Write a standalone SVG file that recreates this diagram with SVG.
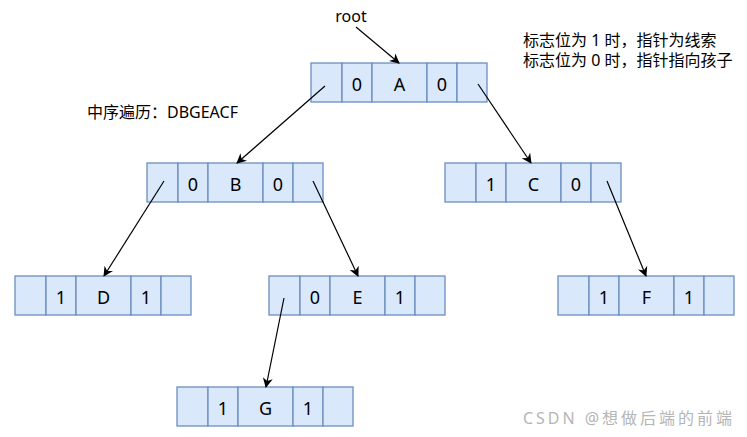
<svg xmlns="http://www.w3.org/2000/svg" width="747" height="437" viewBox="0 0 747 437">
<defs>
<style>
.c{fill:#dae8fc;stroke:#6c8ebf;stroke-width:1.3}
.t{font-family:"Noto Sans","Noto Sans CJK SC",sans-serif;font-size:18px;fill:#000;text-anchor:middle;dominant-baseline:central}
.l{font-family:"Noto Sans","Noto Sans CJK SC",sans-serif;font-size:16px;fill:#000}
.e{stroke:#000;stroke-width:1.2;fill:none;marker-end:url(#ah)}
</style>
<marker id="ah" viewBox="0 0 10 10" refX="9" refY="5" markerWidth="10" markerHeight="10" markerUnits="userSpaceOnUse" orient="auto">
<path d="M0,0 L10,5 L0,10 L3,5 Z" fill="#000"/>
</marker>
<g id="cells">
<rect class="c" x="0" y="0" width="31" height="39"/>
<rect class="c" x="31" y="0" width="30" height="39"/>
<rect class="c" x="61" y="0" width="55" height="39"/>
<rect class="c" x="116" y="0" width="30" height="39"/>
<rect class="c" x="146" y="0" width="30" height="39"/>
</g>
</defs>
<rect width="747" height="437" fill="#fff"/>
<g id="nodeA" transform="translate(311,63)"><use href="#cells"/><text class="t" x="46" y="21">0</text><text class="t" x="88.5" y="21">A</text><text class="t" x="131" y="21">0</text></g>
<g id="nodeB" transform="translate(147,163)"><use href="#cells"/><text class="t" x="46" y="21">0</text><text class="t" x="88.5" y="21">B</text><text class="t" x="131" y="21">0</text></g>
<g id="nodeC" transform="translate(445,163)"><use href="#cells"/><text class="t" x="46" y="21">1</text><text class="t" x="88.5" y="21">C</text><text class="t" x="131" y="21">0</text></g>
<g id="nodeD" transform="translate(15,276)"><use href="#cells"/><text class="t" x="46" y="21">1</text><text class="t" x="88.5" y="21">D</text><text class="t" x="131" y="21">1</text></g>
<g id="nodeE" transform="translate(269,276)"><use href="#cells"/><text class="t" x="46" y="21">0</text><text class="t" x="88.5" y="21">E</text><text class="t" x="131" y="21">1</text></g>
<g id="nodeF" transform="translate(558,276)"><use href="#cells"/><text class="t" x="46" y="21">1</text><text class="t" x="88.5" y="21">F</text><text class="t" x="131" y="21">1</text></g>
<g id="nodeG" transform="translate(177,387)"><use href="#cells"/><text class="t" x="46" y="21">1</text><text class="t" x="88.5" y="21">G</text><text class="t" x="131" y="21">1</text></g>
<g id="labels">
<text class="l" x="351" y="22" text-anchor="middle" font-size="17">root</text>
<text class="l" x="523" y="46">标志位为 1 时，指针为线索</text>
<text class="l" x="523" y="66">标志位为 0 时，指针指向孩子</text>
<text class="l" x="87" y="118">中序遍历：DBGEACF</text>
<text class="l" x="523" y="424" font-size="19" textLength="209" lengthAdjust="spacing" style="fill:#b5b5b5">CSDN @想做后端的前端</text>
</g>
<g id="connectors">
<line class="e" x1="356" y1="27" x2="399" y2="63"/>
<line class="e" x1="325" y1="86" x2="237" y2="163"/>
<line class="e" x1="478" y1="84" x2="531" y2="163"/>
<line class="e" x1="164" y1="181" x2="104" y2="276"/>
<line class="e" x1="313" y1="181" x2="358" y2="276"/>
<line class="e" x1="607" y1="181" x2="646" y2="276"/>
<line class="e" x1="284" y1="298" x2="266" y2="387"/>
</g>
</svg>
